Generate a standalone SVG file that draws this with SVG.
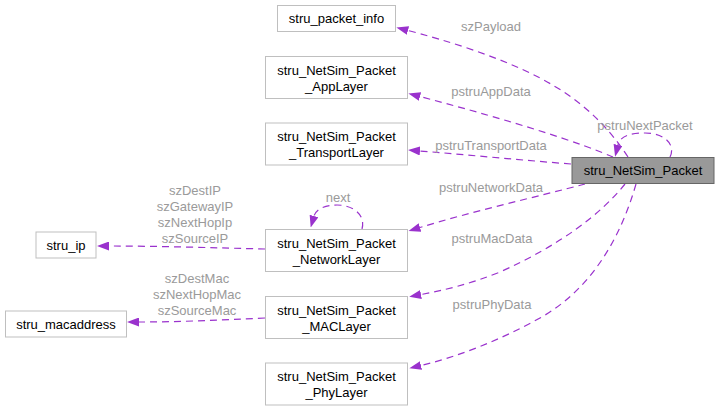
<svg xmlns="http://www.w3.org/2000/svg" width="720" height="411" viewBox="0 0 720 411">
<style>
  .box { fill: #ffffff; stroke: #bfbfbf; stroke-width: 1; }
  .main { fill: #999999; stroke: #666666; stroke-width: 1; }
  .nt { font-family: "Liberation Sans", Arial, sans-serif; font-size: 13px; fill: #000000; text-anchor: middle; }
  .el { font-family: "Liberation Sans", Arial, sans-serif; font-size: 13px; fill: #9a9a9a; text-anchor: middle; }
  .edge { fill: none; stroke: #9a32cd; stroke-width: 1.2; stroke-dasharray: 7,5; marker-end: url(#arr); }
</style>
<defs>
  <marker id="arr" markerUnits="userSpaceOnUse" markerWidth="12" markerHeight="9" refX="0" refY="4.5" orient="auto" viewBox="0 0 12 9">
    <path d="M0,0 L12,4.5 L0,9 Z" fill="#9a32cd"/>
  </marker>
</defs>
<rect width="720" height="411" fill="#ffffff"/>

<g id="connectors">
  <path class="edge" d="M628,157 C605,122 578,98 540,78 C500,57 445,40 408,30.5"/>
  <text class="el" x="491" y="31">szPayload</text>

  <path class="edge" d="M613,157 C580,143 520,123 420,96.5"/>
  <text class="el" x="491" y="96">pstruAppData</text>

  <path class="edge" d="M571,164 C520,160 470,155 420,151"/>
  <text class="el" x="491" y="150">pstruTransportData</text>

  <path class="edge" d="M670,157 C676,145 665,133 645,133 C628,133 620,137 618,145"/>
  <text class="el" x="645" y="130">pstruNextPacket</text>

  <path class="edge" d="M585,184 C540,196 470,212 420,227.5"/>
  <text class="el" x="491" y="192">pstruNetworkData</text>

  <path class="edge" d="M625,184 C600,215 560,245 500,272 C470,284 445,290 421,294.5"/>
  <text class="el" x="492" y="243">pstruMacData</text>

  <path class="edge" d="M636,184 C620,240 590,290 540,318 C500,340 460,356 421,365.5"/>
  <text class="el" x="492" y="309">pstruPhyData</text>

  <path class="edge" d="M362,229 C366,214 352,205 337,205 C325,205 316,209 314,216"/>
  <text class="el" x="338" y="202">next</text>

  <path class="edge" d="M265,249 C220,248 160,246 109,246"/>
  <text class="el" x="195" y="195">szDestIP</text>
  <text class="el" x="195" y="211">szGatewayIP</text>
  <text class="el" x="195" y="227">szNextHopIp</text>
  <text class="el" x="195" y="243">szSourceIP</text>

  <path class="edge" d="M265,318 C220,320 180,322 139,322"/>
  <text class="el" x="197" y="283">szDestMac</text>
  <text class="el" x="197" y="299">szNextHopMac</text>
  <text class="el" x="197" y="315">szSourceMac</text>
</g>

<g id="node_packet">
  <rect class="main" x="572" y="157.5" width="142" height="26"/>
  <text class="nt" x="643" y="175">stru_NetSim_Packet</text>
</g>
<g id="node_packet_info">
  <rect class="box" x="277.5" y="5.5" width="118" height="26"/>
  <text class="nt" x="336.5" y="23">stru_packet_info</text>
</g>
<g id="node_applayer">
  <rect class="box" x="265.5" y="56.5" width="142" height="42"/>
  <text class="nt" x="336.5" y="74.5">stru_NetSim_Packet</text>
  <text class="nt" x="336.5" y="90.5">_AppLayer</text>
</g>
<g id="node_transportlayer">
  <rect class="box" x="265.5" y="123" width="142" height="42"/>
  <text class="nt" x="336.5" y="141">stru_NetSim_Packet</text>
  <text class="nt" x="336.5" y="157">_TransportLayer</text>
</g>
<g id="node_networklayer">
  <rect class="box" x="265.5" y="229.5" width="142" height="42"/>
  <text class="nt" x="336.5" y="247.5">stru_NetSim_Packet</text>
  <text class="nt" x="336.5" y="263.5">_NetworkLayer</text>
</g>
<g id="node_maclayer">
  <rect class="box" x="265.5" y="296.5" width="142" height="42"/>
  <text class="nt" x="336.5" y="314.5">stru_NetSim_Packet</text>
  <text class="nt" x="336.5" y="330.5">_MACLayer</text>
</g>
<g id="node_phylayer">
  <rect class="box" x="265.5" y="363" width="142" height="42"/>
  <text class="nt" x="336.5" y="381">stru_NetSim_Packet</text>
  <text class="nt" x="336.5" y="397">_PhyLayer</text>
</g>
<g id="node_ip">
  <rect class="box" x="36" y="232" width="60" height="26"/>
  <text class="nt" x="66" y="249.5">stru_ip</text>
</g>
<g id="node_macaddress">
  <rect class="box" x="5.5" y="311" width="121" height="26"/>
  <text class="nt" x="66" y="328.5">stru_macaddress</text>
</g>
</svg>
